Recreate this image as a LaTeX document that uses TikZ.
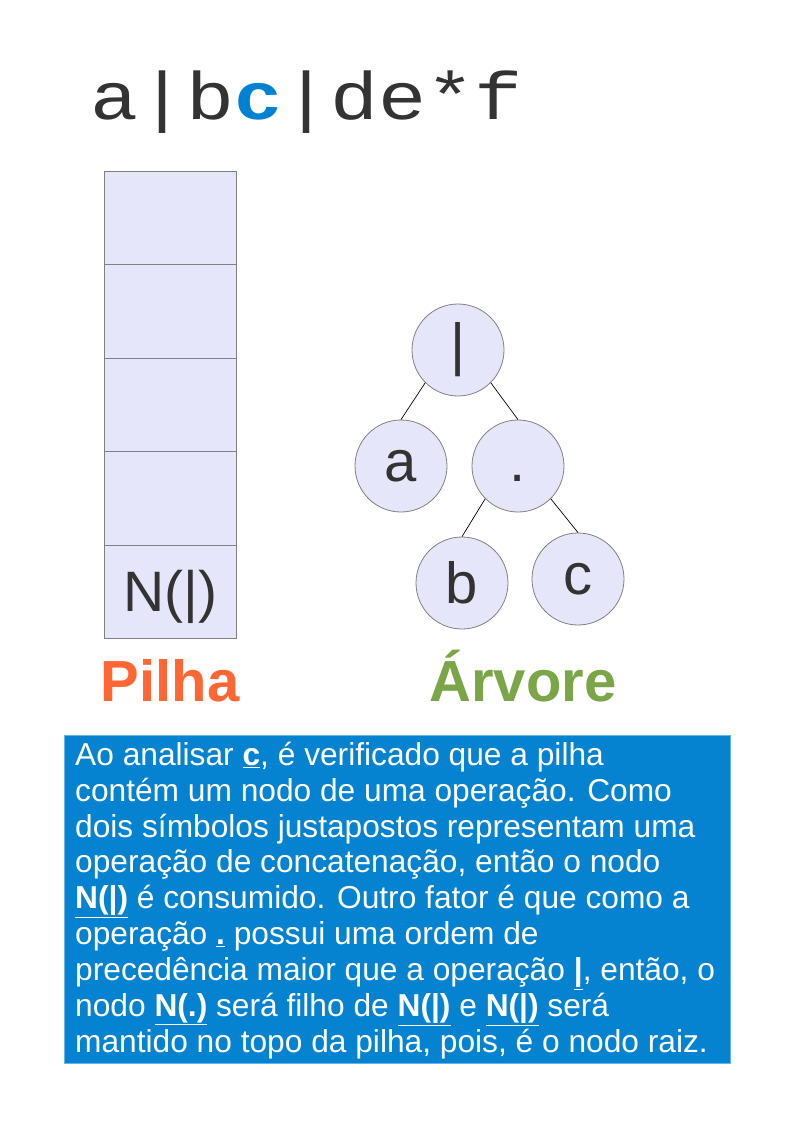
\documentclass[tikz,border=0pt]{standalone}
\usepackage{fontspec}
\usepackage{graphicx}
\setmainfont{Liberation Sans}
\newfontfamily\monofont{Liberation Mono}
\definecolor{cellfill}{RGB}{230,230,250}
\definecolor{cellline}{RGB}{128,128,128}
\definecolor{darktext}{RGB}{51,51,51}
\definecolor{hiblue}{RGB}{0,130,210}
\definecolor{pilhacol}{RGB}{255,102,51}
\definecolor{arvorecol}{RGB}{122,166,72}
\definecolor{boxblue}{RGB}{5,131,209}
\definecolor{boxedge}{RGB}{100,180,235}
\begin{document}
\begin{tikzpicture}[x=1pt,y=-1pt,
  stackcell/.style={draw=cellline, fill=cellfill, line width=0.8pt, minimum width=132pt, minimum height=93.4pt, inner sep=0pt, anchor=north west, text=darktext, font=\fontsize{57}{60}\selectfont},
  treenode/.style={circle, draw=cellline, fill=cellfill, line width=0.8pt, minimum size=92pt, inner sep=0pt, text=darktext, font=\fontsize{58}{60}\selectfont},
  treeedge/.style={draw=black, line width=0.7pt},
  caption/.style={font=\bfseries\fontsize{58}{60}\selectfont, anchor=base, inner sep=0pt},
  infobox/.style={fill=boxblue, draw=boxedge, line width=1.2pt, anchor=north west, minimum width=666pt, minimum height=328pt, inner sep=0pt},
  infotext/.style={text=white, align=left, anchor=north west, inner sep=0pt, font=\fontsize{31.7}{35.9}\selectfont}
]
\useasboundingbox (0,0) rectangle (794,1123);
\fill[white] (0,0) rectangle (794,1123);

% expression
\node[anchor=base west, inner sep=0pt, text=darktext, font=\monofont\fontsize{80}{84}\selectfont] (expr) at (90.5,120)
  {\scalebox{1}[0.84]{a|b{\bfseries\color{hiblue}c}|de*f}};

% stack
\node[stackcell] (s1) at (104,171) {};
\node[stackcell] (s2) at (104,264.4) {};
\node[stackcell] (s3) at (104,357.8) {};
\node[stackcell] (s4) at (104,451.2) {};
\node[stackcell, text height=41.6pt, text depth=2.9pt] (s5) at (104,544.6) {N(|)};

% tree
\node[treenode] (root) at (458,350) {|};
\node[treenode] (na) at (401,466) {a};
\node[treenode] (ndot) at (518,466) {\vphantom{a}.};
\node[treenode] (nb) at (462,583) {b};
\node[treenode] (nc) at (578,579) {c};
\draw[treeedge] (root.225) -- (na.north);
\draw[treeedge] (root.-45) -- (ndot.north);
\draw[treeedge] (ndot.225) -- (nb.north);
\draw[treeedge] (ndot.-45) -- (nc.north);

% captions
\node[caption, text=pilhacol] (pilha) at (170,701) {Pilha};
\node[caption, text=arvorecol] (arvore) at (523,701) {Árvore};

% info box
\node[infobox] (info) at (64,735) {};
\node[infotext] (infotxt) at (75,739.9) {%
\strut Ao analisar \underline{\textbf{c}}, é verificado que a pilha\\
\strut contém um nodo de uma operação. Como\\
\strut dois símbolos justapostos representam uma\\
\strut operação de concatenação, então o nodo\\
\strut \underline{\textbf{N(|)}} é consumido. Outro fator é que como a\\
\strut operação \underline{\textbf{.}} possui uma ordem de\\
\strut precedência maior que a operação \underline{\textbf{|}}, então, o\\
\strut nodo \underline{\textbf{N(.)}} será filho de \underline{\textbf{N(|)}} e \underline{\textbf{N(|)}} será\\
\strut mantido no topo da pilha, pois, é o nodo raiz.};
\end{tikzpicture}
\end{document}
